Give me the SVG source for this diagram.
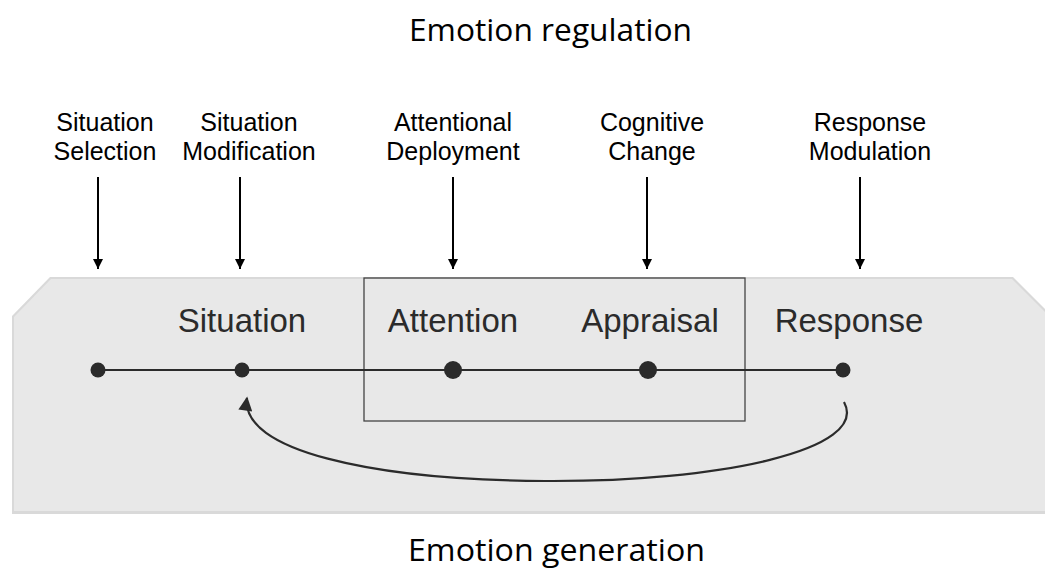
<svg xmlns="http://www.w3.org/2000/svg" width="1045" height="569" viewBox="0 0 1045 569">
<defs>
<marker id="ah" viewBox="0 0 10 10" refX="10" refY="5" markerWidth="10" markerHeight="10" markerUnits="userSpaceOnUse" orient="auto"><path d="M0,0 L10,5 L0,10 z" fill="#000"/></marker>
<marker id="ah2" viewBox="0 0 10 10" refX="9" refY="5" markerWidth="16" markerHeight="14" markerUnits="userSpaceOnUse" orient="auto"><path d="M0,0 L10,5 L0,10 z" fill="#2b2b2b"/></marker>
</defs>
<style>
.title{font-family:"Open Sans","Noto Sans",sans-serif;font-size:31px;fill:#000}
.lab{font-family:"Liberation Sans",Arial,sans-serif;font-size:25px;fill:#000;text-anchor:middle}
.stage{font-family:"Liberation Sans",Arial,sans-serif;font-size:33px;fill:#2b2b2b;text-anchor:middle}
.arr{stroke:#000;stroke-width:2;fill:none;marker-end:url(#ah)}
.dot{fill:#2b2b2b}
</style>
<rect width="1045" height="569" fill="#fff"/>
<g id="background">
<polygon points="50,277 1013,277 1048,312 1048,514 12,514 12,316" fill="#d9d9d9"/>
<polygon points="51,279 1012,279 1045,312 1045,511 14,511 14,317" fill="#e8e8e8"/>
</g>
<text class="title" x="409" y="41" textLength="283" lengthAdjust="spacingAndGlyphs">Emotion regulation</text>
<text class="title" x="408" y="561" textLength="297" lengthAdjust="spacingAndGlyphs">Emotion generation</text>
<g id="node-situation-selection"><text class="lab" x="105" y="131">Situation</text><text class="lab" x="105" y="160">Selection</text></g>
<g id="node-situation-modification"><text class="lab" x="249" y="131">Situation</text><text class="lab" x="249" y="160">Modification</text></g>
<g id="node-attentional-deployment"><text class="lab" x="453" y="131">Attentional</text><text class="lab" x="453" y="160">Deployment</text></g>
<g id="node-cognitive-change"><text class="lab" x="652" y="131">Cognitive</text><text class="lab" x="652" y="160">Change</text></g>
<g id="node-response-modulation"><text class="lab" x="870" y="131">Response</text><text class="lab" x="870" y="160">Modulation</text></g>
<g id="node-box"><rect x="364" y="278" width="381" height="143" fill="none" stroke="#444" stroke-width="1.3"/></g>
<g id="node-situation"><text class="stage" x="242" y="332">Situation</text><circle class="dot" cx="242" cy="370" r="7.5"/></g>
<g id="node-attention"><text class="stage" x="453" y="332">Attention</text><circle class="dot" cx="453" cy="370" r="9"/></g>
<g id="node-appraisal"><text class="stage" x="650" y="332">Appraisal</text><circle class="dot" cx="648" cy="370" r="9"/></g>
<g id="node-response"><text class="stage" x="849" y="332">Response</text><circle class="dot" cx="843" cy="370" r="7.5"/></g>
<g id="node-start"><circle class="dot" cx="98" cy="370" r="7.5"/></g>
<g id="connectors">
<line x1="98" y1="370" x2="843" y2="370" stroke="#2b2b2b" stroke-width="2"/>
<line class="arr" x1="98" y1="177" x2="98" y2="269"/>
<line class="arr" x1="240" y1="177" x2="240" y2="269"/>
<line class="arr" x1="453" y1="177" x2="453" y2="269"/>
<line class="arr" x1="647" y1="177" x2="647" y2="269"/>
<line class="arr" x1="860" y1="177" x2="860" y2="269"/>
<path d="M844,402 C870,450 720,482 545,481 C370,480 240,450 247,398" fill="none" stroke="#2b2b2b" stroke-width="2.2" marker-end="url(#ah2)"/>
</g>
</svg>
